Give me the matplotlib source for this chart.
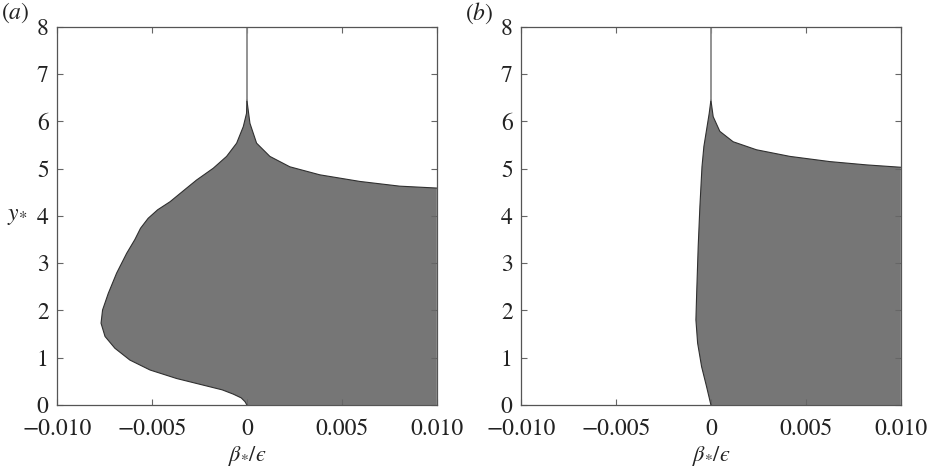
import matplotlib.pyplot as plt
import numpy as np

plt.rcParams['font.family'] = 'serif'
plt.rcParams['font.serif'] = ['STIXGeneral', 'DejaVu Serif']
plt.rcParams['mathtext.fontset'] = 'stix'
plt.rcParams['font.size'] = 17

# Panel (a): boundary of the shaded region (beta*/eps, y*)
a_left_x = [0.0, -0.0001, -0.0003, -0.00072, -0.0013, -0.0023, -0.0037, -0.0051, -0.00616,
            -0.00695, -0.00747, -0.00768, -0.0076, -0.0073, -0.00686, -0.00633, -0.0059,
            -0.0056, -0.0052, -0.0047, -0.00405, -0.0032, -0.00265, -0.00177, -0.00107,
            -0.00054, -0.00019, -0.00002, 0.0]
a_left_y = [0.0, 0.07, 0.15, 0.23, 0.32, 0.42, 0.56, 0.74, 0.95, 1.20, 1.45, 1.73, 2.01,
            2.36, 2.79, 3.21, 3.50, 3.74, 3.95, 4.13, 4.30, 4.58, 4.76, 5.01, 5.26, 5.54,
            5.89, 6.17, 6.45]
a_right_x = [0.0, 0.00016, 0.00051, 0.00121, 0.00226, 0.00384, 0.00595, 0.00805, 0.010]
a_right_y = [6.45, 5.96, 5.54, 5.26, 5.04, 4.87, 4.73, 4.63, 4.59]

# Panel (b)
b_left_x = [0.0, -0.00023, -0.00049, -0.0007, -0.00079, -0.00075, -0.00067, -0.00058,
            -0.00047, -0.00037, -0.00023, -0.00009, 0.0]
b_left_y = [0.0, 0.39, 0.81, 1.31, 1.80, 2.36, 3.35, 4.20, 5.04, 5.47, 5.82, 6.17, 6.45]
b_right_x = [0.0, 0.00012, 0.00047, 0.00117, 0.0024, 0.00416, 0.00626, 0.0082, 0.010]
b_right_y = [6.45, 6.10, 5.79, 5.57, 5.40, 5.26, 5.15, 5.08, 5.03]

xticks = [-0.010, -0.005, 0.0, 0.005, 0.010]
xtick_labels = ['\u22120.010', '\u22120.005', '0', '0.005', '0.010']
yticks = [0, 1, 2, 3, 4, 5, 6, 7, 8]

fig = plt.figure(figsize=(9.31, 4.72), dpi=100)
ax_a = fig.add_axes([0.0612, 0.142, 0.408, 0.801])
ax_b = fig.add_axes([0.5596, 0.142, 0.408, 0.801])

panels = [
    (ax_a, a_left_x, a_left_y, a_right_x, a_right_y, 'a'),
    (ax_b, b_left_x, b_left_y, b_right_x, b_right_y, 'b'),
]

for ax, lx, ly, rx, ry, tag in panels:
    xs = np.concatenate([lx, rx[1:], [0.010, lx[0]]])
    ys = np.concatenate([ly, ry[1:], [0.0, 0.0]])
    ax.fill(xs, ys, color='#767676', lw=0, zorder=1)
    ax.plot(lx, ly, color='#303030', lw=0.8, zorder=2, solid_joinstyle='round')
    ax.plot(rx, ry, color='#303030', lw=0.8, zorder=2, solid_joinstyle='round')
    # thin line continuing up from the cusp
    ax.plot([0.0, 0.0], [ly[-1], 8.0], color='#8a8a8a', lw=1.3, zorder=2)

    ax.set_xlim(-0.010, 0.010)
    ax.set_ylim(0, 8)
    ax.set_xticks(xticks)
    ax.set_xticklabels(xtick_labels)
    ax.set_yticks(yticks)
    ax.tick_params(direction='in', top=True, right=True, length=4, width=0.8,
                   color='#666666', labelcolor='#222222')
    ax.tick_params(axis='x', pad=10)
    ax.tick_params(axis='y', pad=6)
    for s in ax.spines.values():
        s.set_color('#555555')
        s.set_linewidth(0.9)
    ax.set_xlabel('$\\beta_{*}/\u03f5$', color='#222222', fontsize=16, labelpad=3)
    ax.text(-0.147, 1.037, '($\\mathit{%s}$)' % tag, transform=ax.transAxes,
            fontsize=17, color='#222222', ha='left', va='center')

ax_a.set_ylabel(r'$y_{*}$', rotation=0, color='#222222', labelpad=14, va='center')

fig.savefig('out.png', dpi=100)
